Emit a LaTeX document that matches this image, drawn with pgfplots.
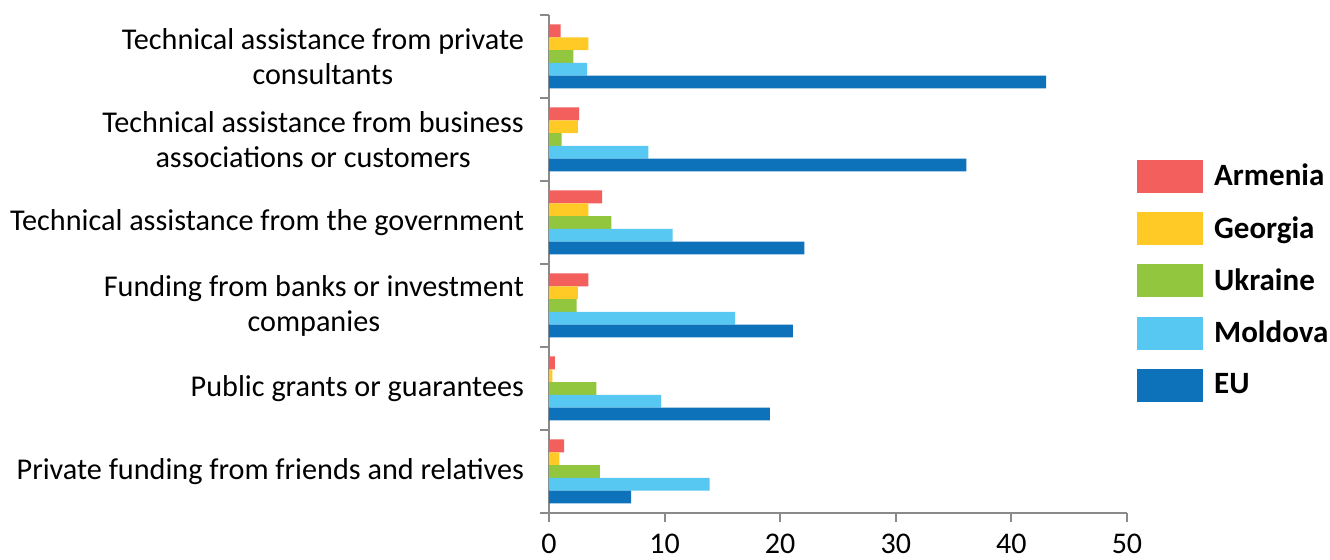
\documentclass[border=0pt]{standalone}
\usepackage{pgfplots}
\pgfplotsset{compat=1.18}
\usepackage{fontspec}
\setmainfont{Carlito}

\definecolor{armenia}{HTML}{F25F5C}
\definecolor{georgia}{HTML}{FFC926}
\definecolor{ukraine}{HTML}{92C63F}
\definecolor{moldova}{HTML}{57C8F2}
\definecolor{eu}{HTML}{0E72BA}
\definecolor{axisgray}{HTML}{8A8A8A}

\begin{document}
\begin{tikzpicture}
\begin{axis}[
  scale only axis,
  width=289pt, height=249pt,
  xbar, bar width=6.4pt,
  xmin=0, xmax=50, ymin=-0.5, ymax=5.5,
  axis x line*=bottom, axis y line*=left,
  axis line style={axisgray, line width=1pt, -},
  tick style={axisgray, line width=1pt},
  tick align=outside,
  major tick length=4.5pt,
  xtick={0,10,...,50},
  xticklabel style={font=\fontsize{15}{17}\selectfont, yshift=-2.5pt},
  /pgf/number format/assume math mode=true,
  ytick={-0.5,0.5,...,5.5},
  yticklabels={},
  extra y ticks={0,1,2,3,4,5},
  extra y tick labels={
    {Private funding from friends and relatives},
    {Public grants or guarantees},
    {Funding from banks or investment\\companies},
    {Technical assistance from the government},
    {Technical assistance from business\\associations or customers},
    {Technical assistance from private\\consultants}},
  extra y tick style={major tick length=0pt,
    yticklabel style={align=center, xshift=-9pt,
      font=\fontsize{15.1}{17.5}\selectfont}},
  legend style={draw=none, fill=none, at={(axis description cs:1.017,0.466)},
    anchor=west, inner sep=0pt, row sep=9.6pt, column sep=3.5pt,
    font=\bfseries\fontsize{15.5}{18}\selectfont},
  legend cell align=left,
  legend image code/.code={\fill[#1] (0pt,-8.25pt) rectangle (33pt,8.25pt);},
]
\addplot[fill=armenia, draw=none, bar shift=12.8pt]
  coordinates {(1.3,0) (0.5,1) (3.4,2) (4.6,3) (2.6,4) (1.0,5)};
\addplot[fill=georgia, draw=none, bar shift=6.4pt]
  coordinates {(0.9,0) (0.3,1) (2.5,2) (3.4,3) (2.5,4) (3.4,5)};
\addplot[fill=ukraine, draw=none, bar shift=0pt]
  coordinates {(4.4,0) (4.1,1) (2.4,2) (5.4,3) (1.1,4) (2.1,5)};
\addplot[fill=moldova, draw=none, bar shift=-6.4pt]
  coordinates {(13.9,0) (9.7,1) (16.1,2) (10.7,3) (8.6,4) (3.3,5)};
\addplot[fill=eu, draw=none, bar shift=-12.8pt]
  coordinates {(7.1,0) (19.1,1) (21.1,2) (22.1,3) (36.1,4) (43.0,5)};
\legend{Armenia, Georgia, Ukraine, Moldova, EU}
\end{axis}
\pgfresetboundingbox
\path[use as bounding box] (-274.5pt,-23.5pt) rectangle (390.5pt,256.5pt);
\end{tikzpicture}
\end{document}
